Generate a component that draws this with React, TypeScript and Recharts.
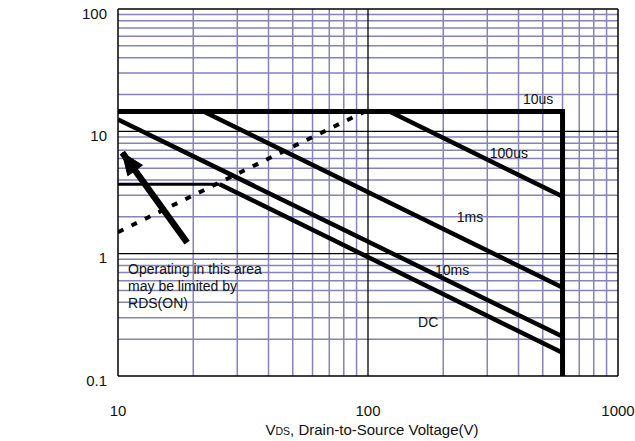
import React from 'react';
import {
  ComposedChart,
  Line,
  XAxis,
  YAxis,
  ReferenceLine,
  ReferenceDot,
} from 'recharts';

// ---- axis ticks / grid values ----
const xTicks = [10, 100, 1000];
const yTicks = [0.1, 1, 10, 100];
const xMinorGrid = [20, 30, 40, 50, 60, 70, 80, 90, 200, 300, 400, 500, 600, 700, 800, 900];
const yMinorGrid = [0.2, 0.3, 0.4, 0.5, 0.6, 0.7, 0.8, 0.9, 2, 3, 4, 5, 6, 7, 8, 9, 20, 30, 40, 50, 60, 70, 80, 90];
const xMajorGrid = [100];
const yMajorGrid = [1, 10];

// ---- SOA limit curves (VDS [V], ID [A]) ----
const limit10us = [
  { v: 10, i: 14.5 },
  { v: 600, i: 14.5 },
  { v: 600, i: 0.1 },
];
const limit100us = [
  { v: 122, i: 14.5 },
  { v: 600, i: 2.93 },
];
const limit1ms = [
  { v: 22, i: 14.5 },
  { v: 600, i: 0.53 },
];
const limit10ms = [
  { v: 10, i: 12.5 },
  { v: 600, i: 0.21 },
];
const limitDCFlat = [
  { v: 10, i: 3.7 },
  { v: 25.5, i: 3.7 },
];
const limitDC = [
  { v: 25.5, i: 3.7 },
  { v: 600, i: 0.155 },
];
const rdsOnLimit = [
  { v: 10, i: 1.5 },
  { v: 97, i: 14.5 },
];
const arrowPoints = [
  { v: 18.9, i: 1.23 },
  { v: 10.4, i: 6.7 },
];

// ---- annotations ----
const curveLabels = [
  { text: '10us', v: 479, i: 18.3 },
  { text: '100us', v: 366, i: 6.6 },
  { text: '1ms', v: 256, i: 2.01 },
  { text: '10ms', v: 217, i: 0.74 },
  { text: 'DC', v: 174, i: 0.277 },
];
const noteLines = ['Operating in this area', 'may be limited by', 'RDS(ON)'];
const noteV = 10.97;
const noteI = [0.753, 0.547, 0.397];

const FONT = '"Liberation Sans", Arial, Helvetica, sans-serif';
const GRID = '#8683b6';

const XTick = (props: any) => {
  const { x, y, payload } = props;
  return (
    <text x={x} y={y + 26} textAnchor="middle" dominantBaseline="central" fontFamily={FONT} fontSize={15} fill="#111">
      {String(payload.value)}
    </text>
  );
};

const YTick = (props: any) => {
  const { x, y, payload } = props;
  return (
    <text x={x - 3} y={y + 4} textAnchor="end" dominantBaseline="central" fontFamily={FONT} fontSize={15} fill="#111">
      {String(payload.value)}
    </text>
  );
};

const ArrowDot = (props: any) => {
  const { cx, cy, index, points } = props;
  if (index !== 1 || !points || points.length < 2) return <g key={`ad-${index}`} />;
  const p0 = points[0];
  const ang = Math.atan2(cy - p0.y, cx - p0.x);
  const len = 22;
  const half = 9;
  const bx = cx - len * Math.cos(ang);
  const by = cy - len * Math.sin(ang);
  const nx = -Math.sin(ang);
  const ny = Math.cos(ang);
  const pts = `${cx},${cy} ${bx + half * nx},${by + half * ny} ${bx - half * nx},${by - half * ny}`;
  return <polygon key={`ad-${index}`} points={pts} fill="#000" stroke="#000" strokeWidth={1} />;
};

const xAxisTitle = (props: any) => {
  const vb = props.viewBox || {};
  const cx = (vb.x || 0) + (vb.width || 0) / 2 + 4;
  const ty = (vb.y || 0) + 59;
  return (
    <text x={cx} y={ty} textAnchor="middle" fontFamily={FONT} fontSize={15} fill="#111">
      <tspan>V</tspan>
      <tspan fontSize={10.5}>DS</tspan>
      <tspan>, Drain-to-Source Voltage(V)</tspan>
    </text>
  );
};

export default function App() {
  const lineCommon = {
    type: 'linear' as const,
    dataKey: 'i',
    stroke: '#000',
    dot: false,
    activeDot: false,
    isAnimationActive: false,
    strokeLinejoin: 'miter' as const,
  };
  return (
    <div style={{ position: 'absolute', left: 0, top: 0, width: 635, height: 441, background: '#fff' }}>
      <ComposedChart width={635} height={441} margin={{ top: 9, right: 17, bottom: 0, left: 0 }}>
        <XAxis
          dataKey="v"
          type="number"
          scale="log"
          domain={[10, 1000]}
          allowDataOverflow
          ticks={xTicks}
          tick={<XTick />}
          tickLine={false}
          axisLine={{ stroke: '#000', strokeWidth: 1.5 }}
          height={65}
          label={{ content: xAxisTitle }}
        />
        <YAxis
          dataKey="i"
          type="number"
          scale="log"
          domain={[0.1, 100]}
          allowDataOverflow
          ticks={yTicks}
          tick={<YTick />}
          tickLine={false}
          axisLine={{ stroke: '#000', strokeWidth: 1.5 }}
          width={118}
        />
        {xMinorGrid.map((v) => (
          <ReferenceLine key={`xg-${v}`} x={v} stroke={GRID} strokeWidth={1.5} />
        ))}
        {yMinorGrid.map((v) => (
          <ReferenceLine key={`yg-${v}`} y={v} stroke={GRID} strokeWidth={1.5} />
        ))}
        {xMajorGrid.map((v) => (
          <ReferenceLine key={`xm-${v}`} x={v} stroke="#000" strokeWidth={1.3} />
        ))}
        {yMajorGrid.map((v) => (
          <ReferenceLine key={`ym-${v}`} y={v} stroke="#000" strokeWidth={1.3} />
        ))}
        <ReferenceLine x={1000} stroke="#000" strokeWidth={1.5} />
        <ReferenceLine y={100} stroke="#000" strokeWidth={1.5} />

        <Line {...lineCommon} data={limit10us} strokeWidth={5} />
        <Line {...lineCommon} data={limit100us} strokeWidth={4.5} />
        <Line {...lineCommon} data={limit1ms} strokeWidth={4.5} />
        <Line {...lineCommon} data={limit10ms} strokeWidth={4.5} />
        <Line {...lineCommon} data={limitDCFlat} strokeWidth={3} />
        <Line {...lineCommon} data={limitDC} strokeWidth={4.5} />
        <Line {...lineCommon} data={rdsOnLimit} strokeWidth={4} strokeDasharray="6 9" />
        <Line {...lineCommon} data={arrowPoints} strokeWidth={6.5} dot={<ArrowDot />} />

        {curveLabels.map((c) => (
          <ReferenceDot
            key={c.text}
            x={c.v}
            y={c.i}
            r={0}
            shape={(p: any) => (
              <text x={p.cx} y={p.cy} textAnchor="middle" dominantBaseline="central" fontFamily={FONT} fontSize={14} fill="#111">
                {c.text}
              </text>
            )}
          />
        ))}
        {noteLines.map((t, k) => (
          <ReferenceDot
            key={t}
            x={noteV}
            y={noteI[k]}
            r={0}
            shape={(p: any) => (
              <text x={p.cx} y={p.cy} textAnchor="start" dominantBaseline="central" fontFamily={FONT} fontSize={14} fill="#111">
                {t}
              </text>
            )}
          />
        ))}
      </ComposedChart>
    </div>
  );
}
